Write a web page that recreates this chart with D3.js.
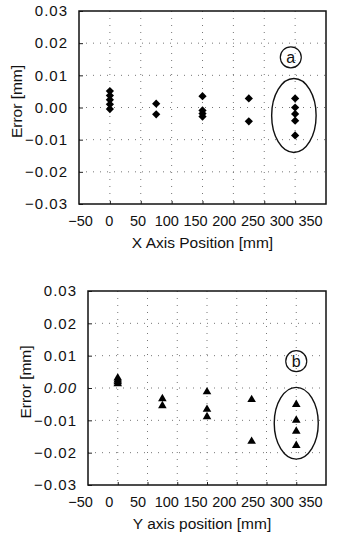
<!DOCTYPE html>
<html>
<head>
<meta charset="utf-8">
<script src="https://cdn.jsdelivr.net/npm/d3@7"></script>
<style>
  body { margin: 0; background: #fff; }
  svg { display: block; }
  text { font-family: "Liberation Sans", Arial, sans-serif; fill: #111; }
  .grid line { stroke: #777; stroke-width: 1; stroke-dasharray: 1,6; }
</style>
</head>
<body>
<div id="chart"></div>
<script>
// ---- data ----
var positions = [0, 75, 150, 225, 300];

// (a) X axis errors [mm], one list per position
var xAxisErrors = [
  [0.0051, 0.0037, 0.0024, 0.0010, -0.0005],
  [0.0012, -0.0021],
  [0.0035, -0.0009, -0.0019, -0.0028],
  [0.0028, -0.0043],
  [0.0028, 0.0000, -0.0020, -0.0041, -0.0087]
];

// (b) Y axis errors [mm]
var yAxisErrors = [
  [0.0031, 0.0025, 0.0019, 0.0013],
  [-0.0033, -0.0055],
  [-0.0012, -0.0066, -0.0089],
  [-0.0036, -0.0165],
  [-0.0051, -0.0100, -0.0134, -0.0178]
];

var xTicks = [-50, 0, 50, 100, 150, 200, 250, 300, 350];
var yTicks = [-0.03, -0.02, -0.01, 0.00, 0.01, 0.02, 0.03];

// highlighted group: ellipse centre/radii and circled label (data units)
var ellipseA = { cx: 298, cy: -0.0025, rx: 36, ry: 0.0115 };
var ellipseB = { cx: 300, cy: -0.0109, rx: 37, ry: 0.0111 };
var badgeA = { x: 293, y: 0.0156, label: 'a' };
var badgeB = { x: 300, y: 0.0083, label: 'b' };

var attrs = { width: 348, height: 539 };

var svg = d3.select('#chart').append('svg')
  .attr('width', attrs.width)
  .attr('height', attrs.height);

function flatten(errors) {
  var out = [];
  errors.forEach(function (list, i) {
    list.forEach(function (v) { out.push({ x: positions[i], y: v }); });
  });
  return out;
}

function drawPanel(p) {
  var x = d3.scaleLinear().domain([-50, 350]).range([p.left, p.right]);
  var y = d3.scaleLinear().domain([-0.03, 0.03]).range([p.bottom, p.top]);
  // tick labels in the scan sit compressed compared to the data ticks
  var xLab = d3.scaleLinear().domain([-50, 350]).range([80, 310]);

  var g = svg.append('g');

  // dotted grid
  var grid = g.append('g').attr('class', 'grid');
  grid.selectAll('.gy').data(yTicks.slice(1, -1)).enter().append('line')
    .attr('x1', p.left).attr('x2', p.right)
    .attr('y1', function (d) { return y(d); }).attr('y2', function (d) { return y(d); });
  grid.selectAll('.gx').data(xTicks.slice(1, -1)).enter().append('line')
    .attr('y1', p.top).attr('y2', p.bottom)
    .attr('x1', function (d) { return x(d); }).attr('x2', function (d) { return x(d); });

  // y axis
  var yAxis = g.append('g')
    .attr('transform', 'translate(' + p.left + ',0)')
    .call(d3.axisLeft(y).tickValues(yTicks).tickFormat(d3.format('.2f'))
      .tickSizeInner(-4).tickSizeOuter(0).tickPadding(11));
  yAxis.select('.domain').remove();
  yAxis.selectAll('line').attr('stroke', '#222');
  yAxis.selectAll('text')
    .attr('font-size', 15).style('letter-spacing', '1px')
    .text(function (d) { return d3.format('.2f')(d).replace('-', '\u2212'); })
    .style('font-style', function (d) { return (p.italicZero && d === 0) ? 'italic' : null; });

  // inner x ticks
  var xTickG = g.append('g')
    .attr('transform', 'translate(0,' + p.bottom + ')')
    .call(d3.axisBottom(x).tickValues(xTicks.slice(1, -1)).tickSizeInner(-3).tickSizeOuter(0).tickFormat(''));
  xTickG.select('.domain').remove();
  xTickG.selectAll('line').attr('stroke', '#222');

  // x tick labels
  var xAxis = g.append('g')
    .attr('transform', 'translate(0,' + p.bottom + ')')
    .call(d3.axisBottom(xLab).tickValues(xTicks).tickSize(0).tickPadding(12));
  xAxis.select('.domain').remove();
  xAxis.selectAll('text')
    .attr('font-size', 14.5)
    .text(function (d) { return String(d).replace('-', '\u2212'); });

  // frame
  g.append('rect')
    .attr('x', p.left).attr('y', p.top)
    .attr('width', p.right - p.left).attr('height', p.bottom - p.top)
    .attr('fill', 'none').attr('stroke', '#111').attr('stroke-width', 1.5);

  // axis titles
  g.append('text')
    .attr('x', (p.left + p.right) / 2 + p.titleShift).attr('y', p.bottom + 44)
    .attr('text-anchor', 'middle').attr('font-size', 15.5)
    .text(p.xTitle);
  g.append('text')
    .attr('transform', 'translate(' + (p.left - 57) + ',' + ((p.top + p.bottom) / 2 - 6) + ') rotate(-90)')
    .attr('text-anchor', 'middle').attr('font-size', 15.5)
    .text('Error [mm]');

  // points
  var sym = d3.symbol().type(p.symbol).size(p.symbolSize);
  g.selectAll('.pt').data(flatten(p.errors)).enter().append('path')
    .attr('class', 'pt')
    .attr('d', sym)
    .attr('fill', '#000')
    .attr('transform', function (d) {
      return 'translate(' + x(d.x) + ',' + y(d.y) + ')' + p.symbolTransform;
    });

  // ellipse around the 300 mm group
  g.append('ellipse')
    .attr('cx', x(p.ellipse.cx)).attr('cy', y(p.ellipse.cy))
    .attr('rx', x(p.ellipse.rx) - x(0))
    .attr('ry', y(0) - y(p.ellipse.ry))
    .attr('fill', 'none').attr('stroke', '#111').attr('stroke-width', 1.4);

  // circled letter
  g.append('circle')
    .attr('cx', x(p.badge.x)).attr('cy', y(p.badge.y)).attr('r', 10.5)
    .attr('fill', 'none').attr('stroke', '#111').attr('stroke-width', 1.2);
  g.append('text')
    .attr('x', x(p.badge.x)).attr('y', y(p.badge.y) + 5.5)
    .attr('text-anchor', 'middle').attr('font-size', 16)
    .text(p.badge.label);
}

drawPanel({
  left: 79, right: 326, top: 11, bottom: 204,
  errors: xAxisErrors,
  symbol: d3.symbolSquare, symbolSize: 34, symbolTransform: ' rotate(45)',
  ellipse: ellipseA, badge: badgeA,
  xTitle: 'X Axis Position [mm]', titleShift: 0, italicZero: false
});

drawPanel({
  left: 88, right: 326, top: 291, bottom: 485,
  errors: yAxisErrors,
  symbol: d3.symbolTriangle, symbolSize: 32, symbolTransform: '',
  ellipse: ellipseB, badge: badgeB,
  xTitle: 'Y axis position [mm]', titleShift: -5, italicZero: true
});
</script>
</body>
</html>
